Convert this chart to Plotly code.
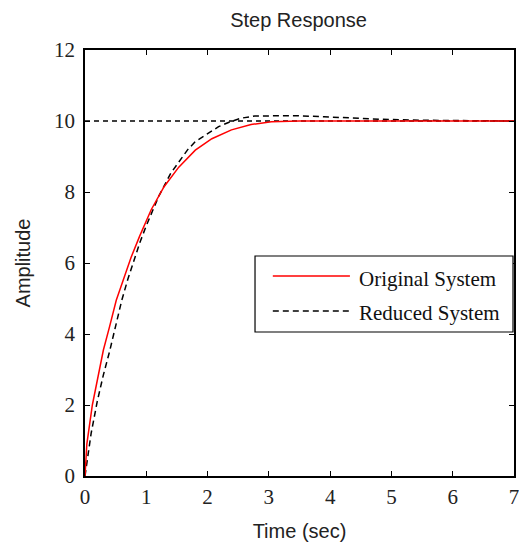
import plotly.graph_objects as go

# ---- data ----
series_names = ["Original System", "Reduced System"]

time_original = [0, 0.03, 0.12, 0.22, 0.30, 0.40, 0.51, 0.62, 0.75, 0.89, 1.0, 1.08,
                 1.29, 1.53, 1.80, 2.07, 2.39, 2.71, 3.04, 3.5, 4.0, 5.0, 6.0, 7.0]
amp_original = [0, 0.9, 2.0, 2.9, 3.55, 4.2, 4.95, 5.5, 6.15, 6.75, 7.2, 7.5,
                8.15, 8.7, 9.18, 9.5, 9.75, 9.9, 9.98, 10.0, 10.0, 10.0, 10.0, 10.0]

time_reduced = [0, 0.05, 0.1, 0.2, 0.3, 0.4, 0.5, 0.6, 0.7, 0.8, 0.9, 1.0, 1.2, 1.4,
                1.53, 1.67, 1.8, 2.0, 2.18, 2.37, 2.55, 2.77, 3.0, 3.4, 3.9, 4.4,
                4.8, 5.5, 6.0, 7.0]
amp_reduced = [0, 0.6, 1.2, 2.1, 2.85, 3.5, 4.2, 4.95, 5.55, 6.1, 6.6, 7.05, 7.87, 8.53,
               8.86, 9.18, 9.42, 9.65, 9.84, 9.98, 10.08, 10.14, 10.15, 10.15, 10.12, 10.08,
               10.05, 10.02, 10.01, 10.0]

steady_state = 10.0
x_range = [0, 7]
y_range = [0, 12]

# ---- layout constants (pixels) ----
W, H = 519, 542
L, R, T, B = 85, 0, 50, 66
PW, PH = W - L - R, H - T - B

def px(x):
    return (x - L) / PW

def py(y):
    return (H - B - y) / PH

SERIF = "Liberation Serif, Times New Roman, serif"
SANS = "Liberation Sans, Arial, sans-serif"

fig = go.Figure()
fig.add_trace(go.Scatter(x=[x_range[0], x_range[1]], y=[steady_state, steady_state],
                         mode="lines", line=dict(color="black", width=1.3, dash="5px,4px"),
                         showlegend=False, hoverinfo="skip"))
fig.add_trace(go.Scatter(x=time_reduced, y=amp_reduced, name=series_names[1], mode="lines",
                         line=dict(color="black", width=1.5, dash="6px,4px"), showlegend=False))
fig.add_trace(go.Scatter(x=time_original, y=amp_original, name=series_names[0], mode="lines",
                         line=dict(color="#ff0000", width=1.5), showlegend=False))

axis_common = dict(showgrid=False, zeroline=False, showline=True, linecolor="black",
                   linewidth=1.5, mirror="ticks", ticks="inside", ticklen=5,
                   tickcolor="black", tickwidth=1.2, ticklabeloverflow="allow",
                   tickfont=dict(family=SERIF, size=21, color="#222"))

fig.update_xaxes(range=x_range, dtick=1, tick0=0, ticklabelstandoff=1,
                 title=dict(text="Time (sec)", font=dict(family=SANS, size=20, color="#222"),
                            standoff=18), **axis_common)
fig.update_yaxes(range=y_range, dtick=2, tick0=0, ticklabelstandoff=4,
                 title=dict(text="Amplitude", font=dict(family=SANS, size=20, color="#222"),
                            standoff=18), **axis_common)

# ---- legend drawn as a MATLAB-style box ----
shapes = [
    dict(type="rect", xref="paper", yref="paper", x0=px(257), x1=px(518), y0=py(332), y1=py(256),
         line=dict(color="black", width=1.2), fillcolor="white", layer="above"),
    dict(type="line", xref="paper", yref="paper", x0=px(275), x1=px(353), y0=py(276), y1=py(276),
         line=dict(color="#ff0000", width=1.5), layer="above"),
    dict(type="line", xref="paper", yref="paper", x0=px(275), x1=px(353), y0=py(311), y1=py(311),
         line=dict(color="black", width=1.5, dash="6px,4px"), layer="above"),
]
annotations = [
    dict(xref="paper", yref="paper", x=px(360), y=py(279), text=series_names[0], showarrow=False,
         xanchor="left", yanchor="middle", font=dict(family=SERIF, size=21, color="#111")),
    dict(xref="paper", yref="paper", x=px(360), y=py(313), text=series_names[1], showarrow=False,
         xanchor="left", yanchor="middle", font=dict(family=SERIF, size=21, color="#111")),
]

fig.update_layout(
    width=W, height=H,
    margin=dict(l=L, r=R, t=T, b=B, pad=0),
    paper_bgcolor="white", plot_bgcolor="white",
    title=dict(text="Step Response", x=px(301), xanchor="center", xref="paper",
               y=(H - 20) / H, yref="container", yanchor="middle",
               font=dict(family=SANS, size=20, color="#222")),
    shapes=shapes, annotations=annotations, showlegend=False,
)

fig.write_html("out.html", config={"displayModeBar": False},
               post_script="document.body.style.margin='0';document.body.style.overflow='hidden';")
